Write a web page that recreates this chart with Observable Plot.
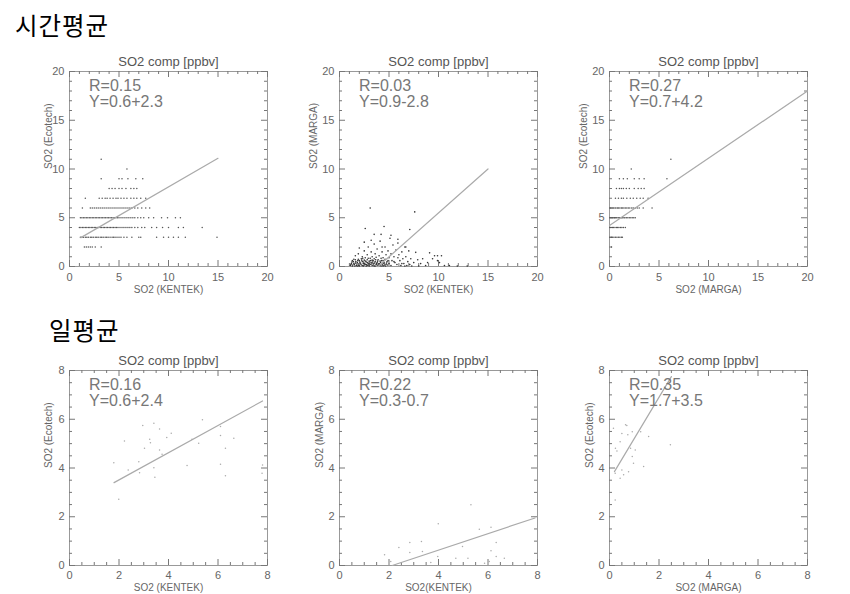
<!DOCTYPE html>
<html><head><meta charset="utf-8">
<script src="https://cdn.jsdelivr.net/npm/d3@7"></script>
<script src="https://cdn.jsdelivr.net/npm/@observablehq/plot@0.6"></script>
<style>
html,body{margin:0;padding:0;background:#fff;overflow:hidden;}
#root{position:relative;width:850px;height:594px;overflow:hidden;}
.hd{position:absolute;font-family:"Noto Sans CJK KR",sans-serif;font-size:24.5px;letter-spacing:1px;line-height:1;color:#000;white-space:nowrap;}
.panel{position:absolute;}
</style></head><body><div id="root">
<div class="hd" id="h1" style="left:15px;top:13px"></div>
<div class="hd" id="h2" style="left:49px;top:318px"></div>
</div>
<script>
// ---------- text ----------
const panelTitle = "SO2 comp [ppbv]";
const headHour = "시간평균", headDay = "일평균";
document.getElementById("h1").textContent = headHour;
document.getElementById("h2").textContent = headDay;

// ---------- ticks ----------
const hourMajor = [0, 5, 10, 15, 20];
const hourMinor = [1,2,3,4,6,7,8,9,11,12,13,14,16,17,18,19];
const dayMajor = [0, 2, 4, 6, 8];
const dayMinor = [0.5,1,1.5,2.5,3,3.5,4.5,5,5.5,6.5,7,7.5];

// ---------- hourly: Ecotech vs KENTEK (rows at integer Ecotech values) ----------
const hKE_rows = [
  {y: 2, xs: [1.5,1.7,1.9,2.1,2.3,2.6,3.2]},
  {y: 3, xs: [1.1,1.25,1.4,1.6,1.75,1.9,2.1,2.25,2.4,2.6,2.75,2.9,3.1,3.25,3.4,3.6,3.75,3.9,4.1,4.3,4.45,4.6,4.8,5.0,5.2,5.5,5.8,6.3,7.0,7.2,8.8,9.5,10.0,10.5,11.0,11.7,14.9]},
  {y: 4, xs: [1.0,1.15,1.3,1.45,1.6,1.75,1.9,2.05,2.2,2.35,2.5,2.65,2.8,2.95,3.1,3.25,3.4,3.55,3.7,3.85,4.0,4.15,4.3,4.45,4.6,4.75,4.9,5.1,5.3,5.5,5.7,5.9,6.1,6.3,6.6,6.9,7.3,7.6,8.3,8.8,9.4,10.0,11.0,11.5,13.4]},
  {y: 5, xs: [1.1,1.25,1.4,1.55,1.7,1.85,2.0,2.15,2.3,2.45,2.6,2.75,2.9,3.05,3.2,3.35,3.5,3.65,3.8,3.95,4.1,4.25,4.4,4.55,4.7,4.85,5.0,5.2,5.4,5.6,5.8,6.0,6.2,6.4,6.6,6.9,7.2,7.5,8.0,8.5,9.3,9.9,10.7,11.2]},
  {y: 6, xs: [1.3,2.1,2.3,2.5,2.7,2.9,3.1,3.3,3.5,3.7,3.9,4.1,4.3,4.5,4.7,4.9,5.1,5.3,5.5,5.7,5.9,6.1,6.3,6.6,6.9,7.3,7.7,8.1]},
  {y: 7, xs: [1.6,3.0,3.3,3.6,3.8,4.1,4.4,4.7,4.9,5.2,5.5,5.8,6.2,6.5,6.8,7.2,7.7]},
  {y: 8, xs: [4.0,4.3,4.6,5.0,5.3,5.7,6.2,6.5,6.8]},
  {y: 9, xs: [3.2,5.0,5.3,5.9,6.7,7.4]},
  {y: 10, xs: [5.8]},
  {y: 11, xs: [3.2]}
];
const hKE_lineX = [1.15, 15.0], hKE_lineY = [2.96, 11.1];
const hKE_stats = ["R=0.15", "Y=0.6+2.3"];

// ---------- hourly: MARGA vs KENTEK ----------
const hMK_pts = [
  [1.1,0.1],[1.2,0.3],[1.3,0.05],[1.4,0.5],[1.5,0.2],[1.6,0.7],[1.7,0.1],[1.8,0.4],[1.9,0.25],[2.0,0.6],[2.0,0.05],[2.1,0.35],[2.2,0.8],[2.2,0.15],[2.3,0.5],[2.4,0.05],[2.4,0.3],[2.5,0.65],[2.6,0.2],[2.6,0.9],[2.7,0.45],[2.8,0.1],[2.8,0.7],[2.9,0.3],[3.0,0.55],[3.0,0.05],[3.1,0.85],[3.1,0.2],[3.2,0.4],[3.3,0.1],[3.3,0.65],[3.4,0.3],[3.5,0.8],[3.5,0.05],[3.6,0.5],[3.7,0.2],[3.7,0.95],[3.8,0.4],[3.9,0.7],[3.9,0.1],[4.0,0.3],[4.1,0.55],[4.2,0.05],[4.2,0.85],[4.3,0.25],[4.4,0.6],[4.5,0.1],[4.5,0.4],[4.6,0.75],[4.7,0.2],[4.8,0.5],[1.3,0.6],[1.6,0.35],[1.9,0.75],[2.5,0.15],[2.9,0.85],[3.4,0.6],[3.8,0.15],[4.1,0.15],[4.4,0.05],[1.8,0.05],[2.7,0.05],[3.6,0.05],
  [1.15,0.2],[1.25,0.45],[1.35,0.15],[1.45,0.3],[1.55,0.05],[1.65,0.5],[1.75,0.25],[1.85,0.6],[1.95,0.1],[2.05,0.45],[2.15,0.25],[2.25,0.65],[2.35,0.1],[2.45,0.45],[2.55,0.3],[2.65,0.55],[2.75,0.2],[2.85,0.4],[2.95,0.15],[3.05,0.35],[3.15,0.6],[3.25,0.25],[3.35,0.45],[3.45,0.15],[3.55,0.35],[3.65,0.7],[3.75,0.3],[3.85,0.55],[3.95,0.25],[4.05,0.1],[4.15,0.4],[4.25,0.6],[4.35,0.15],[4.45,0.35],[4.55,0.25],[4.65,0.05],[4.75,0.35],[4.85,0.15],[1.45,0.75],[2.35,0.85],
  [1.6,1.1],[1.9,1.3],[2.3,1.0],[2.5,1.6],[2.8,1.2],[2.9,2.0],[3.2,1.5],[3.3,1.0],[3.5,2.3],[3.6,1.3],[3.8,1.8],[4.0,1.1],[4.1,2.6],[4.3,1.5],[4.4,0.9],[4.6,2.0],[4.7,1.2],[4.9,1.6],[5.0,0.9],[5.1,2.9],[5.2,1.3],[5.3,0.6],[5.4,2.2],[5.5,1.0],[5.6,0.4],[5.7,1.7],[5.8,0.2],[5.9,2.4],[6.0,1.2],[6.1,0.6],[6.2,0.1],[6.3,1.5],[6.4,0.8],[6.5,0.3],[6.6,2.0],[6.7,1.0],[6.9,0.5],[7.0,1.6],[7.1,0.2],[7.2,0.8],[5.0,0.3],[5.2,0.1],[4.9,0.6],[5.5,0.5],[5.9,0.9],[6.3,0.3],[6.8,0.1],[7.5,0.4],[7.7,1.45],[7.9,0.7],
  [3.1,6.0],[7.6,5.6],[4.5,4.1],[2.6,3.9],[3.5,3.3],[5.2,3.2],[7.1,3.8],[3.2,2.7],[4.2,3.3],[5.9,2.8],[2.5,2.5],[4.3,2.0],[6.7,2.0],[2.0,1.9],
  [8.2,0.3],[8.4,0.8],[8.7,0.1],[8.9,0.4],[9.1,1.4],[9.4,0.8],[9.6,1.1],[9.9,0.6],[10.1,0.4],[10.3,1.1],[10.6,0.1],[11.1,0.1],[11.9,0.05],[12.9,0.05],[9.9,1.1],[8.0,0.05],[7.3,0.05],[6.6,0.05]
];
const hMK_lineX = [3.9, 15.0], hMK_lineY = [0.0, 10.0];
const hMK_stats = ["R=0.03", "Y=0.9-2.8"];

// ---------- hourly: Ecotech vs MARGA ----------
const hEM_rows = [
  {y: 2, xs: [0.2]},
  {y: 3, xs: [0.05,0.2,0.3,0.45,0.6,0.75,0.9,1.05,1.2,1.3]},
  {y: 4, xs: [0.05,0.15,0.3,0.4,0.55,0.7,0.8,0.95,1.1,1.25,1.4,1.6]},
  {y: 5, xs: [0.05,0.15,0.25,0.35,0.5,0.6,0.7,0.85,0.95,1.05,1.2,1.3,1.45,1.55,1.7,1.85,2.0,2.15,2.3,2.45,2.6]},
  {y: 6, xs: [0.05,0.15,0.3,0.4,0.55,0.65,0.8,0.9,1.05,1.2,1.3,1.45,1.6,1.75,1.9,2.05,2.25,2.4,2.6,2.8,3.0,3.4,4.3]},
  {y: 7, xs: [0.6,0.9,1.2,1.4,1.75,2.1,2.4,2.75,3.1,3.4,3.9]},
  {y: 8, xs: [0.7,1.0,1.2,1.4,1.7,2.0,2.5,2.9,3.2,3.5]},
  {y: 9, xs: [1.0,1.4,1.8,2.5,3.0,3.5,5.8]},
  {y: 10, xs: [2.2]},
  {y: 11, xs: [6.2]}
];
const hEM_lineX = [0.0, 20.0], hEM_lineY = [4.2, 18.0];
const hEM_stats = ["R=0.27", "Y=0.7+4.2"];

// ---------- daily: Ecotech vs KENTEK ----------
const dKE_pts = [
  [2.96,5.74],[3.41,5.84],[3.64,5.6],[2.22,5.11],[3.24,5.18],[3.27,5.04],[4.11,5.43],[3.03,4.81],[3.64,4.74],[3.74,4.56],
  [1.79,4.22],[2.8,4.26],[2.83,3.81],[3.41,4.01],[3.45,3.62],[2.37,3.92],[4.75,4.1],[4.95,5.18],[5.22,5.02],[6.1,5.7],
  [6.1,5.33],[6.3,4.81],[6.64,5.22],[6.1,4.15],[6.3,3.68],[7.78,3.78],[1.99,2.72],[5.37,5.98],[7.8,4.12],[3.93,5.25]
];
const dKE_lineX = [1.8, 7.8], dKE_lineY = [3.4, 6.75];
const dKE_stats = ["R=0.16", "Y=0.6+2.4"];

// ---------- daily: MARGA vs KENTEK ----------
const dMK_pts = [
  [5.31,2.49],[3.99,1.71],[6.12,1.57],[5.65,1.49],[2.84,0.94],[3.31,0.98],[2.4,0.74],[6.33,0.94],[2.84,0.53],[3.35,0.57],
  [1.82,0.44],[6.12,0.61],[4.7,0.3],[6.33,0.37],[6.66,0.3],[2.07,0.16],[3.69,0.12],[6.05,0.16],[4.97,0.78],[3.97,0.37],
  [5.19,0.3],[5.86,0.09]
];
const dMK_lineX = [2.13, 7.9], dMK_lineY = [0.0, 1.95];
const dMK_stats = ["R=0.22", "Y=0.3-0.7"];

// ---------- daily: Ecotech vs MARGA ----------
const dEM_pts = [
  [0.7,5.74],[0.16,5.63],[0.5,5.42],[0.74,5.36],[1.58,5.29],[0.43,5.08],[0.3,4.7],[1.04,4.74],[2.46,4.95],[0.97,4.19],
  [1.38,4.06],[0.77,3.85],[0.5,3.92],[0.23,3.78],[0.43,3.58],[0.57,3.72],[0.23,2.69],[0.65,5.77],[0.92,5.49],[1.26,5.49],
  [0.92,4.47],[0.24,4.81],[0.85,4.81]
];
const dEM_lineX = [0.2, 2.5], dEM_lineY = [3.85, 7.75];
const dEM_stats = ["R=0.35", "Y=1.7+3.5"];

// ---------- layout ----------
const W = 198, H = 195, mL = 50, mR = 20, mT = 30, mB = 32;
const colLeft = [68.7, 338.7, 609];
const rowTop = [70.7, 370];
const FONT = "'Liberation Sans', Arial, sans-serif";

const fromRows = rows => rows.flatMap(r => r.xs.map(x => ({x, y: r.y})));
const fromPairs = ps => ps.map(([x, y]) => ({x, y}));
const fromLine = (xs, ys) => xs.map((x, i) => ({x, y: ys[i]}));

const panels = [
  {pts: fromRows(hKE_rows), line: fromLine(hKE_lineX, hKE_lineY), stats: hKE_stats, xlab: "SO2 (KENTEK)", ylab: "SO2 (Ecotech)", daily: false, col: 0, row: 0, ylDx: 21, fill: "#555", r: 0.75},
  {pts: fromPairs(hMK_pts), line: fromLine(hMK_lineX, hMK_lineY), stats: hMK_stats, xlab: "SO2 (KENTEK)", ylab: "SO2 (MARGA)", daily: false, col: 1, row: 0, ylDx: 26, fill: "#333", r: 0.8},
  {pts: fromRows(hEM_rows), line: fromLine(hEM_lineX, hEM_lineY), stats: hEM_stats, xlab: "SO2 (MARGA)", ylab: "SO2 (Ecotech)", daily: false, col: 2, row: 0, ylDx: 26, fill: "#555", r: 0.75},
  {pts: fromPairs(dKE_pts), line: fromLine(dKE_lineX, dKE_lineY), stats: dKE_stats, xlab: "SO2 (KENTEK)", ylab: "SO2 (Ecotech)", daily: true, col: 0, row: 1, ylDx: 21, fill: "#aaa", r: 0.75},
  {pts: fromPairs(dMK_pts), line: fromLine(dMK_lineX, dMK_lineY), stats: dMK_stats, xlab: "SO2(KENTEK)", ylab: "SO2 (MARGA)", daily: true, col: 1, row: 1, ylDx: 20, fill: "#aaa", r: 0.75},
  {pts: fromPairs(dEM_pts), line: fromLine(dEM_lineX, dEM_lineY), stats: dEM_stats, xlab: "SO2 (MARGA)", ylab: "SO2 (Ecotech)", daily: true, col: 2, row: 1, ylDx: 20, fill: "#aaa", r: 0.75}
];

const root = document.getElementById("root");
for (const p of panels) {
  const domain = p.daily ? [0, 8] : [0, 20];
  const major = p.daily ? dayMajor : hourMajor;
  const minor = p.daily ? dayMinor : hourMinor;
  const tickC = "#777";
  const chart = Plot.plot({
    width: mL + W + mR, height: mT + H + mB,
    marginLeft: mL, marginRight: mR, marginTop: mT, marginBottom: mB,
    style: {fontFamily: FONT, fontSize: "11px", color: "#666", background: "transparent", overflow: "visible"},
    x: {domain, ticks: major, tickSize: 0, tickPadding: p.daily ? 6 : 7, label: null, tickFormat: d => String(d)},
    y: {domain, ticks: major, tickSize: 0, tickPadding: 5, label: null, tickFormat: d => String(d)},
    marks: [
      Plot.frame({stroke: "#999"}),
      // major ticks (inward on all four sides)
      Plot.tickX(major, {x: d => d, insetTop: H - 6, stroke: tickC}),
      Plot.tickX(major, {x: d => d, insetBottom: H - 6, stroke: tickC}),
      Plot.tickY(major, {y: d => d, insetRight: W - 6, stroke: tickC}),
      Plot.tickY(major, {y: d => d, insetLeft: W - 6, stroke: tickC}),
      // minor ticks
      Plot.tickX(minor, {x: d => d, insetTop: H - 3, stroke: tickC}),
      Plot.tickX(minor, {x: d => d, insetBottom: H - 3, stroke: tickC}),
      Plot.tickY(minor, {y: d => d, insetRight: W - 3, stroke: tickC}),
      Plot.tickY(minor, {y: d => d, insetLeft: W - 3, stroke: tickC}),
      // data
      Plot.dot(p.pts, {x: "x", y: "y", r: p.r, fill: p.fill, stroke: null}),
      Plot.line(p.line, {x: "x", y: "y", stroke: "#aaa", strokeWidth: 1.2}),
      // texts
      Plot.text([panelTitle], {text: d => d, frameAnchor: "top", dy: -9.5, lineAnchor: "middle", fontSize: 13, fill: "#555"}),
      Plot.text([p.xlab], {text: d => d, frameAnchor: "bottom", dy: p.daily ? 22 : 23.5, lineAnchor: "middle", fontSize: 10, fill: "#666"}),
      Plot.text([p.ylab], {text: d => d, frameAnchor: "left", dx: -p.ylDx, rotate: -90, lineAnchor: "middle", fontSize: 10, fill: "#666"}),
      Plot.text([p.stats.join("\n")], {text: d => d, frameAnchor: "top-left", dx: 19.5, dy: 8, textAnchor: "start", lineAnchor: "top", lineHeight: 1, fontSize: 16, fill: "#777"})
    ]
  });
  const div = document.createElement("div");
  div.className = "panel";
  div.style.left = (colLeft[p.col] - mL) + "px";
  div.style.top = (rowTop[p.row] - mT) + "px";
  div.appendChild(chart);
  root.appendChild(div);
}
</script>
</body></html>
